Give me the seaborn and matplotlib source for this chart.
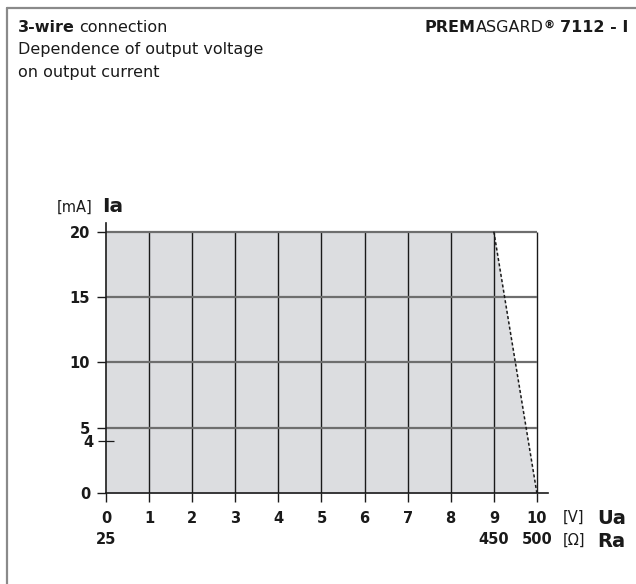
import numpy as np
import pandas as pd
import matplotlib
matplotlib.use("Agg")
import matplotlib.pyplot as plt
from matplotlib.lines import Line2D
import seaborn as sns

# data
ua_volts = [0, 9, 10]            # output voltage [V]
ia_ma = [20, 20, 0]              # output current [mA]
x_ticks = [0, 1, 2, 3, 4, 5, 6, 7, 8, 9, 10]
ra_labels = {0: "25", 9: "450", 10: "500"}   # load resistance row [Ohm]
y_major = [0, 5, 10, 15, 20]
y_minor = [4]

sns.set_theme(style="white")
plt.rcParams["font.family"] = ["DejaVu Sans"]

W, H = 636, 584
fig = plt.figure(figsize=(W / 100, H / 100), dpi=100)
ax = fig.add_axes([106 / W, 1 - 493.3 / H, 441.7 / W, 270 / H])
ink = "#1a1a1a"

df = pd.DataFrame({"Ua": ua_volts, "Ia": ia_ma})

# working area
ax.fill_between(df["Ua"], 0, df["Ia"], color="#dcdde0", lw=0, zorder=0)
# grid
ax.vlines(x_ticks[1:], 0, max(ia_ma), color=ink, lw=1.0, zorder=2)
ax.hlines(y_major[1:], 0, max(ua_volts), color="#6e6e6e", lw=1.6, zorder=2)
# limit line
sns.lineplot(data=df.iloc[1:], x="Ua", y="Ia", ax=ax, color=ink,
             lw=1.1, linestyle=(0, (2, 1.5)), zorder=3)

ax.set_xlim(0, 10.25)
ax.set_ylim(0, 20.64)
ax.set_xlabel("")
ax.set_ylabel("")
for s in ["top", "right"]:
    ax.spines[s].set_visible(False)
for s in ["left", "bottom"]:
    ax.spines[s].set_color(ink)
    ax.spines[s].set_linewidth(1.2)

ax.set_xticks(x_ticks)
ax.set_xticklabels([f"{v}\n{ra_labels[v]}" if v in ra_labels else str(v) for v in x_ticks])
ax.set_yticks(y_major)
ax.set_yticklabels([str(v) for v in y_major])
ax.set_yticks(y_minor, minor=True)
ax.set_yticklabels([str(v) for v in y_minor], minor=True)

ax.tick_params(axis="both", which="major", direction="out", length=6.5, width=1.0,
               color=ink, labelsize=10.5, labelcolor=ink, pad=5,
               bottom=True, left=True)
ax.tick_params(axis="x", which="major", pad=6)
ax.tick_params(axis="y", which="minor", direction="inout", length=12, width=0.9,
               color=ink, labelsize=10.5, labelcolor=ink, pad=3, left=True)
for lab in ax.get_xticklabels() + ax.get_yticklabels() + ax.get_yticklabels(minor=True):
    lab.set_fontweight("bold")
for lab in ax.get_xticklabels():
    lab.set_linespacing(1.55)

# axis names
fig.text(93 / W, 1 - 212 / H, "[mA]", ha="right", va="baseline", fontsize=10.5,
         color=ink)
fig.text(102 / W, 1 - 212 / H, "Ia", ha="left", va="baseline", fontsize=14.5,
         fontweight="bold", color=ink)
fig.text(563 / W, 1 - 522 / H, "[V]", ha="left", va="baseline", fontsize=10.5,
         color=ink)
fig.text(597 / W, 1 - 524 / H, "Ua", ha="left", va="baseline", fontsize=14,
         fontweight="bold", color=ink)
fig.text(563 / W, 1 - 545 / H, "[Ω]", ha="left", va="baseline", fontsize=10.5,
         color=ink)
fig.text(597 / W, 1 - 547 / H, "Ra", ha="left", va="baseline", fontsize=14,
         fontweight="bold", color=ink)

renderer = fig.canvas.get_renderer()


def chain(parts, x0, y0, right=False):
    # place text pieces side by side (pixels from top left); gap = space after a piece
    x = x0
    seq = parts[::-1] if right else parts
    for txt, kw, gap, dy in seq:
        if right:
            x -= gap
        t = fig.text(x / W, 1 - (y0 - dy) / H, txt, ha="right" if right else "left",
                     va="baseline", color=ink, **kw)
        w = t.get_window_extent(renderer).width
        x = x - w if right else x + w + gap


# header texts
chain([("3-wire", dict(fontsize=11.5, fontweight="bold"), 4, 0),
       ("connection", dict(fontsize=11.5), 0, 0)], 18, 32)
fig.text(18 / W, 1 - 54 / H, "Dependence of output voltage", ha="left",
         va="baseline", fontsize=11.5, color=ink)
fig.text(18 / W, 1 - 77 / H, "on output current", ha="left", va="baseline",
         fontsize=11.5, color=ink)
chain([("PREM", dict(fontsize=11.5, fontweight="bold"), 0, 0),
       ("ASGARD", dict(fontsize=11.5), 0, 0),
       ("®", dict(fontsize=8, fontweight="bold"), 5, 4),
       ("7112 - I", dict(fontsize=11.5, fontweight="bold"), 0, 0)], 628, 32, right=True)

# page frame
fig.add_artist(Line2D([7 / W, 7 / W], [0, 1 - 8 / H], color="#8a8a8a", lw=1.6))
fig.add_artist(Line2D([7 / W, 1], [1 - 8 / H, 1 - 8 / H], color="#8a8a8a", lw=1.6))

fig.savefig("out.png", dpi=100)
